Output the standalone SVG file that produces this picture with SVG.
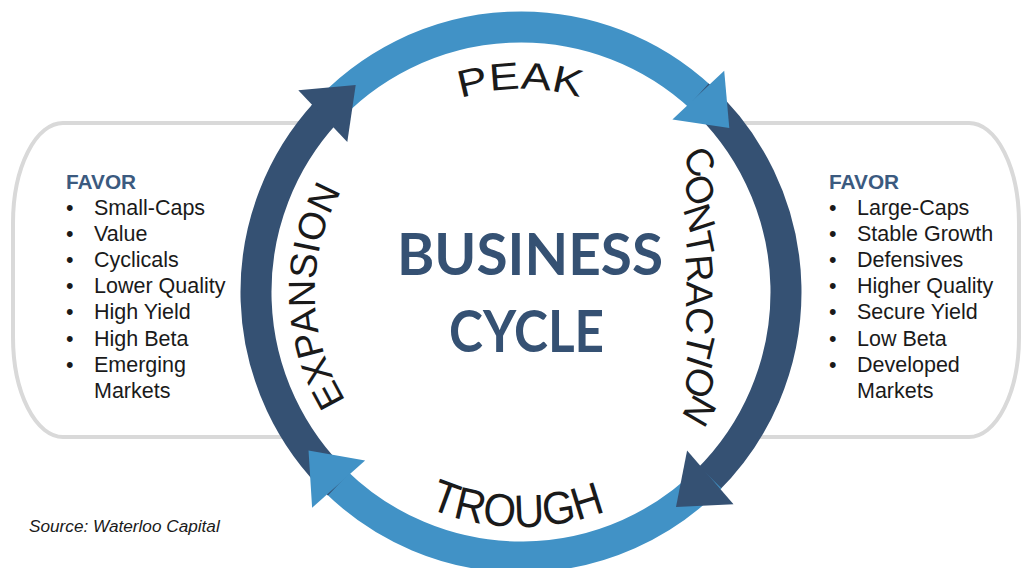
<svg xmlns="http://www.w3.org/2000/svg" width="1021" height="568" viewBox="0 0 1021 568">
  <style>
    .panel { fill: #ffffff; stroke: #d9d9d9; stroke-width: 4; }
    .head { font-family: "Liberation Sans", Arial, sans-serif; font-weight: bold; font-size: 20.8px; fill: #3b5a7f; }
    .item { font-family: "Liberation Sans", Arial, sans-serif; font-size: 21.5px; fill: #1a1a1a; }
    .ring { fill: none; stroke-width: 31; }
    .dark { stroke: #355173; }
    .light { stroke: #4192c6; }
    .dark-fill { fill: #355173; }
    .light-fill { fill: #4192c6; }
    .phase { font-family: "Liberation Sans", Arial, sans-serif; fill: #1a1a1a; }
    .title { font-family: Lato, "Liberation Sans", sans-serif; font-weight: bold; font-size: 57px; fill: #355173; }
    .source { font-family: "Liberation Sans", Arial, sans-serif; font-style: italic; font-size: 17.2px; fill: #1a1a1a; }
  </style>
  <defs>
    <!-- baselines for the curved phase labels, centred on (521,292) -->
    <path id="peakPath" d="M 460.6 98.2 A 203 203 0 0 1 630.7 121.2"/>
    <path id="troughPath" d="M 428.4 508.0 A 235 235 0 0 0 701.0 443.1"/>
    <path id="expansionPath" d="M 345.9 400.6 A 206 206 0 0 1 383.7 138.4"/>
  </defs>

  <!-- side panels -->
  <g id="favor-left">
    <path class="panel" d="M 521 123 H 63 A 50 100 0 0 0 13 223 V 337 A 50 100 0 0 0 63 437 H 521"/>
    <text class="head" x="66" y="189">FAVOR</text>
    <g class="item">
      <text x="66" y="215">•</text><text x="94" y="215">Small-Caps</text>
      <text x="66" y="241">•</text><text x="94" y="241">Value</text>
      <text x="66" y="267">•</text><text x="94" y="267">Cyclicals</text>
      <text x="66" y="293">•</text><text x="94" y="293">Lower Quality</text>
      <text x="66" y="319">•</text><text x="94" y="319">High Yield</text>
      <text x="66" y="345.5">•</text><text x="94" y="345.5">High Beta</text>
      <text x="66" y="371.5">•</text><text x="94" y="371.5">Emerging</text>
      <text x="94" y="397.5">Markets</text>
    </g>
  </g>

  <g id="favor-right">
    <path class="panel" d="M 521 123 H 969 A 50 100 0 0 1 1019 223 V 337 A 50 100 0 0 1 969 437 H 521"/>
    <text class="head" x="829" y="189">FAVOR</text>
    <g class="item">
      <text x="829" y="215">•</text><text x="857" y="215">Large-Caps</text>
      <text x="829" y="241">•</text><text x="857" y="241">Stable Growth</text>
      <text x="829" y="267">•</text><text x="857" y="267">Defensives</text>
      <text x="829" y="293">•</text><text x="857" y="293">Higher Quality</text>
      <text x="829" y="319">•</text><text x="857" y="319">Secure Yield</text>
      <text x="829" y="345.5">•</text><text x="857" y="345.5">Low Beta</text>
      <text x="829" y="371.5">•</text><text x="857" y="371.5">Developed</text>
      <text x="857" y="397.5">Markets</text>
    </g>
  </g>

  <!-- white disc behind the cycle -->
  <circle cx="521" cy="292" r="268" fill="#ffffff"/>

  <!-- cycle arrows: four quarter arcs, each heads over the start of the next -->
  <g id="connectors">
    <path class="ring light" d="M 322.8 116.1 A 265 265 0 0 1 701.7 98.2"/>
    <path class="ring dark" d="M 698.3 95.1 A 265 265 0 0 1 707.1 480.7"/>
    <path class="ring light" d="M 710.3 477.4 A 265 265 0 0 1 335.3 481.0"/>
    <path class="ring dark" d="M 338.6 484.2 A 265 265 0 0 1 325.9 112.6"/>
    <polygon class="dark-fill" points="347.3,141.9 298.3,90.3 355.7,84.9"/>
    <polygon class="light-fill" points="672.4,119.4 724.2,70.8 729.3,128.1"/>
    <polygon class="dark-fill" points="687.1,450.5 733.5,504.3 676.0,506.9"/>
    <polygon class="light-fill" points="365.1,460.6 312.1,507.8 308.5,450.4"/>
  </g>

  <!-- phase labels -->
  <g id="peak">
    <text class="phase" font-size="38"><textPath href="#peakPath" textLength="121" lengthAdjust="spacingAndGlyphs">PEAK</textPath></text>
  </g>
  <g id="contraction">
    <text class="phase" font-size="38"
      x="681.2 681.4 682.8 684.3 685.2 686.6 688.4 689.6 688.7 693.3 695.1"
      y="156.9 181.9 209.1 234.6 256.0 281.6 305.5 331.6 353.6 363.9 392.5"
      rotate="58 65 72.1 78.4 84.6 91.2 97.7 103.9 108.1 113.1 120.1">CONTRACTION</text>
  </g>
  <g id="trough">
    <text class="phase" font-size="46"><textPath href="#troughPath" textLength="182" lengthAdjust="spacingAndGlyphs">TROUGH</textPath></text>
  </g>
  <g id="expansion">
    <text class="phase" font-size="37.7"><textPath href="#expansionPath" textLength="220" lengthAdjust="spacingAndGlyphs">EXPANSION</textPath></text>
  </g>

  <!-- centre title -->
  <g id="title">
    <text class="title" x="397" y="275" textLength="266" lengthAdjust="spacingAndGlyphs">BUSINESS</text>
    <text class="title" x="449" y="352" textLength="155" lengthAdjust="spacingAndGlyphs">CYCLE</text>
  </g>

  <text class="source" x="29" y="532">Source: Waterloo Capital</text>
</svg>
